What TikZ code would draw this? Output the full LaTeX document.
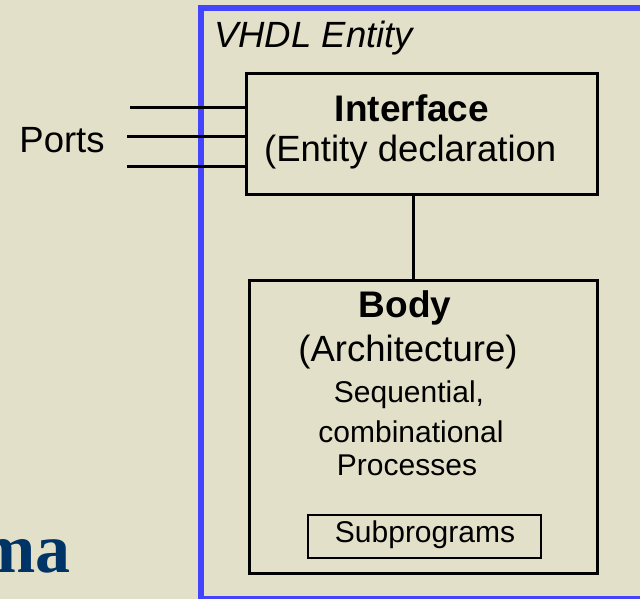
\documentclass[tikz,border=0pt]{standalone}
\usepackage{fontspec}
\setmainfont{Liberation Sans}
\newfontfamily\serifb{Liberation Serif}
\definecolor{bgc}{RGB}{226,224,200}
\definecolor{frameblue}{RGB}{68,68,255}
\definecolor{navy}{RGB}{0,51,102}
\tikzset{
  box/.style={draw=black, line width=3pt, rectangle, inner sep=0pt},
  subbox/.style={draw=black, line width=2.5pt, rectangle, inner sep=0pt},
  wire/.style={draw=black, line width=3pt},
  big/.style={font=\fontsize{36.5}{40}\selectfont, inner sep=0pt},
  bigb/.style={font=\fontsize{37}{40}\selectfont\bfseries, inner sep=0pt},
  small/.style={font=\fontsize{30}{32}\selectfont, inner sep=0pt},
}
\begin{document}
\begin{tikzpicture}[x=1pt,y=1pt]
\useasboundingbox (0,0) rectangle (640,-599);
\fill[bgc] (0,0) rectangle (640,-599);
\begin{scope}
\clip (0,0) rectangle (640,-599);
\draw[frameblue, line width=6pt] (201,-8.5) rectangle (700,-599);
\node[anchor=base east, text=navy, font=\serifb\fontsize{70}{74}\selectfont\bfseries, inner sep=0pt] (ma) at (71,-572) {ma};
\end{scope}
\node[big, anchor=west, font=\fontsize{36.5}{40}\selectfont\itshape] (title) at (214,-38) {VHDL Entity};
\node[box, minimum width=351pt, minimum height=120pt] (iface) at (421.5,-134) {};
\node[bigb] (ifacet) at (412,-108) {Interface};
\node[big, anchor=west] (ifaced) at (264,-152) {(Entity declaration};
\node[box, minimum width=348pt, minimum height=293pt] (body) at (423,-426.5) {};
\node[bigb] (bodyt) at (405,-308) {Body};
\node[big] (arch) at (408,-352) {(Architecture)};
\node[small] (seq) at (409,-395) {Sequential,};
\node[small] (comb) at (411,-432) {combinational};
\node[small] (proc) at (407,-465) {Processes};
\node[subbox, minimum width=233pt, minimum height=43pt] (sub) at (424.5,-536.5) {};
\node[small] (subt) at (425,-535) {Subprograms};
\node[big] (ports) at (62,-140) {Ports};
\coordinate (p1) at (130,-108);
\coordinate (p2) at (127,-137);
\coordinate (p3) at (127,-167);
\draw[wire] (p1) -- (p1 -| iface.west);
\draw[wire] (p2) -- (p2 -| iface.west);
\draw[wire] (p3) -- (p3 -| iface.west);
\coordinate (cx) at (413,0);
\draw[wire] (cx |- iface.south) -- (cx |- body.north);
\end{tikzpicture}
\end{document}
